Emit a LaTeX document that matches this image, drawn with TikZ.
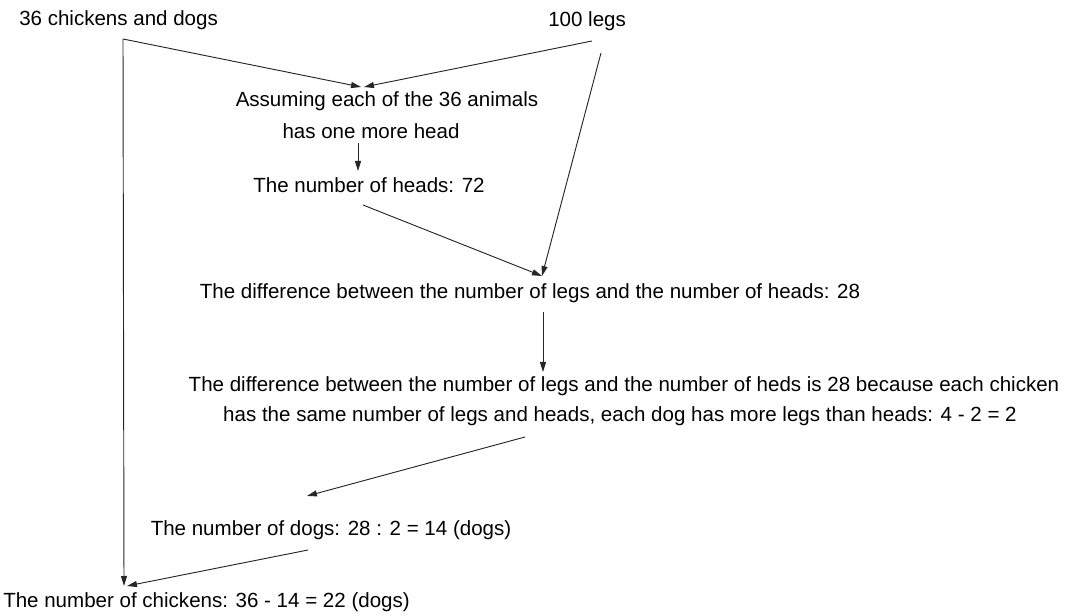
\documentclass[tikz,border=0pt]{standalone}
\usepackage{fontspec}
\setmainfont{Liberation Sans}
\usetikzlibrary{arrows.meta}

\begin{document}
\begin{tikzpicture}[x=0.75pt,y=-0.75pt,
    txt/.style={inner sep=0pt,anchor=base,font=\fontsize{15.4}{18}\selectfont},
    flecha/.style={draw=black!85,line width=0.7pt,-{Triangle[length=7.5pt,width=4.5pt]}}]
                % Marco del dibujo
                \useasboundingbox (0,0) rectangle (1086,616);

                % Datos del problema
                \node[txt,anchor=base west] (total) at (19,26) {36 chickens and dogs};
                \node[txt,anchor=base west] (legs) at (548,27) {100 legs};

                % Pasos del razonamiento
                \node[txt] (assume) at (387,107) {Assuming each of the 36 animals};
                \node[txt] (onemore) at (371,139) {has one more head};
                \node[txt] (heads) at (369,193) {The number of heads: 72};
                \node[txt] (diff) at (530,299) {The difference between the number of legs and the number of heads: 28};
                \node[txt] (whyA) at (624,392) {The difference between the number of legs and the number of heds is 28 because each chicken};
                \node[txt] (whyB) at (620,422) {has the same number of legs and heads, each dog has more legs than heads: 4 - 2 = 2};
                \node[txt] (dogs) at (331,536) {The number of dogs: 28 : 2 = 14 (dogs)};
                \node[txt,anchor=base west] (chickens) at (3,608) {The number of chickens: 36 - 14 = 22 (dogs)};

                % Extremos libres de las flechas
                \coordinate (totalC) at (123,39);
                \coordinate (assumeT) at (361,87);
                \coordinate (assumeT2) at (364,87);
                \coordinate (legsA) at (592,41);
                \coordinate (legsB) at (601,53);
                \coordinate (onemoreB) at (358,143);
                \coordinate (headsT) at (358,171);
                \coordinate (headsB) at (363,205);
                \coordinate (diffT) at (542,276);
                \coordinate (diffB) at (543,312);
                \coordinate (whyT) at (543,372);
                \coordinate (whyBB) at (525,437);
                \coordinate (dogsT) at (307,496);
                \coordinate (dogsB) at (308,550);
                \coordinate (chickensT) at (124,586);
                \coordinate (chickensT2) at (127,586);

                % Conectores
                \draw[flecha] (totalC) -- (chickensT);
                \draw[flecha] (totalC) -- (assumeT);
                \draw[flecha] (legsA) -- (assumeT2);
                \draw[flecha] (legsB) -- (diffT);
                \draw[flecha] (onemoreB) -- (headsT);
                \draw[flecha] (headsB) -- (diffT);
                \draw[flecha] (diffB) -- (whyT);
                \draw[flecha] (whyBB) -- (dogsT);
                \draw[flecha] (dogsB) -- (chickensT2);
\end{tikzpicture}
\end{document}
